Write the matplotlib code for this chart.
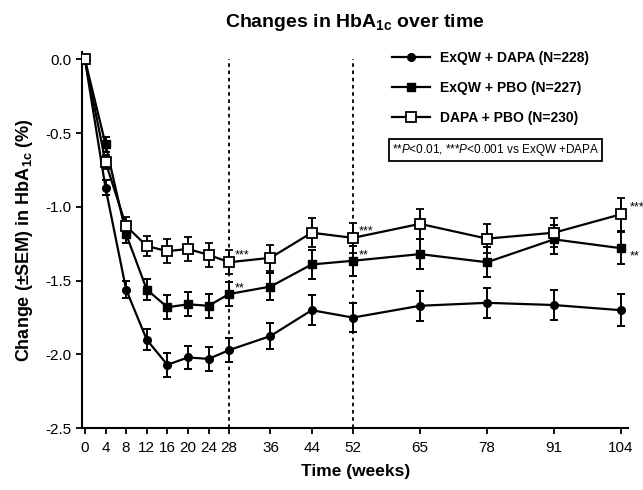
import numpy as np
import matplotlib.pyplot as plt
from matplotlib.lines import Line2D

plt.rcParams['font.family'] = ['Liberation Sans', 'DejaVu Sans']
plt.rcParams['mathtext.fontset'] = 'custom'
plt.rcParams['mathtext.rm'] = 'Liberation Sans'
plt.rcParams['mathtext.bf'] = 'Liberation Sans:bold'
plt.rcParams['mathtext.it'] = 'Liberation Sans:italic'

weeks = [0, 4, 8, 12, 16, 20, 24, 28, 36, 44, 52, 65, 78, 91, 104]

exqw_dapa = [0.0, -0.87, -1.56, -1.90, -2.07, -2.02, -2.03, -1.97, -1.875, -1.70, -1.75, -1.67, -1.65, -1.665, -1.70]
exqw_dapa_sem = [0.02, 0.05, 0.06, 0.07, 0.08, 0.08, 0.08, 0.08, 0.09, 0.10, 0.10, 0.10, 0.10, 0.10, 0.11]

exqw_pbo = [0.0, -0.575, -1.185, -1.56, -1.68, -1.66, -1.67, -1.59, -1.54, -1.39, -1.365, -1.32, -1.375, -1.22, -1.28]
exqw_pbo_sem = [0.02, 0.05, 0.06, 0.07, 0.08, 0.08, 0.08, 0.08, 0.09, 0.10, 0.10, 0.10, 0.10, 0.10, 0.11]

dapa_pbo = [0.0, -0.695, -1.13, -1.265, -1.30, -1.285, -1.325, -1.375, -1.345, -1.175, -1.21, -1.115, -1.215, -1.175, -1.05]
dapa_pbo_sem = [0.02, 0.05, 0.06, 0.07, 0.08, 0.08, 0.08, 0.08, 0.09, 0.10, 0.10, 0.10, 0.10, 0.10, 0.11]

labels = ['ExQW + DAPA (N=228)', 'ExQW + PBO (N=227)', 'DAPA + PBO (N=230)']

# significance marks: (week, series, text, offset in points)
stars = [(28, dapa_pbo, '***', (4, 5)), (28, exqw_pbo, '**', (4, 4)),
         (52, dapa_pbo, '***', (4, 5)), (52, exqw_pbo, '**', (4, 4)),
         (104, dapa_pbo, '***', (6, 5)), (104, exqw_pbo, '**', (6, -6))]

fig = plt.figure(figsize=(6.43, 4.9), dpi=100)
ax = fig.add_axes([0.128, 0.126, 0.849, 0.768])

ax.vlines([28, 52], -2.5, 0.0, colors='black', linestyles=(0, (2, 2)), lw=1.3, zorder=1)

common = dict(color='black', lw=1.6, capsize=3.2, capthick=1.4, elinewidth=1.4)
ax.errorbar(weeks, exqw_dapa, yerr=exqw_dapa_sem, marker='o', ms=5.5,
            mfc='black', mec='black', zorder=3, **common)
ax.errorbar(weeks, exqw_pbo, yerr=exqw_pbo_sem, marker='s', ms=5.8,
            mfc='black', mec='black', zorder=4, **common)
ax.errorbar(weeks, dapa_pbo, yerr=dapa_pbo_sem, marker='s', ms=7,
            mfc='white', mec='black', mew=1.3, zorder=5, **common)

for wk, series, txt, off in stars:
    y = series[weeks.index(wk)]
    ax.annotate(txt, (wk, y), xytext=off, textcoords='offset points',
                fontsize=9, ha='left', va='center', annotation_clip=False)

ax.set_xlim(-0.5, 105.4)
ax.set_ylim(-2.5, 0.05)
ax.set_xticks(weeks)
ax.set_yticks([0.0, -0.5, -1.0, -1.5, -2.0, -2.5])
ax.set_yticklabels(['0.0', '-0.5', '-1.0', '-1.5', '-2.0', '-2.5'])
ax.tick_params(labelsize=11, width=1.3, length=4, colors='black')
ax.tick_params(axis='x', pad=5)
ax.spines['top'].set_visible(False)
ax.spines['right'].set_visible(False)
ax.spines['left'].set_linewidth(1.5)
ax.spines['bottom'].set_linewidth(1.5)
ax.spines['left'].set_bounds(-2.5, 0.05)

ax.set_xlabel('Time (weeks)', fontsize=12.5, fontweight='bold', labelpad=7)
ax.set_ylabel(r'Change (±SEM) in HbA$_{\mathbf{1c}}$ (%)', fontsize=13,
              fontweight='bold', labelpad=8)
ax.set_title(r'Changes in HbA$_{\mathbf{1c}}$ over time', fontsize=14,
             fontweight='bold', pad=18)

handles = [
    Line2D([], [], color='black', lw=1.6, marker='o', ms=5.5, mfc='black'),
    Line2D([], [], color='black', lw=1.6, marker='s', ms=5.8, mfc='black'),
    Line2D([], [], color='black', lw=1.6, marker='s', ms=7, mfc='white', mew=1.3),
]
ax.legend(handles, labels, loc='upper left', bbox_to_anchor=(0.545, 1.035), frameon=False,
          handlelength=2.7, handletextpad=0.7, labelspacing=1.15,
          prop={'weight': 'bold', 'size': 10})

fig.text(0.609, 0.694, r'**$\it{P}$<0.01, ***$\it{P}$<0.001 vs ExQW +DAPA',
         fontsize=8.5, va='center', ha='left',
         bbox=dict(boxstyle='square,pad=0.25', fc='white', ec='black', lw=1.3))

fig.savefig('out.png', dpi=100)
